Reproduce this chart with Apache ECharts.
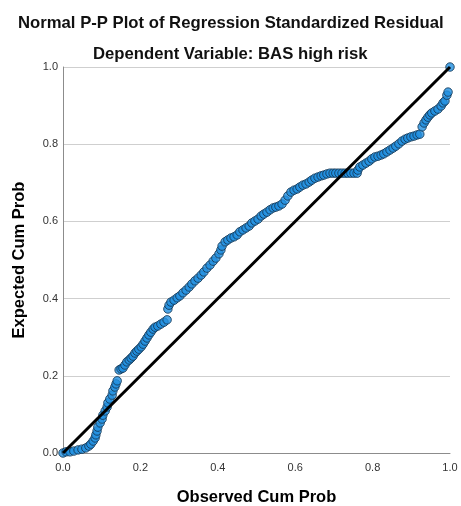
<!DOCTYPE html>
<html>
<head>
<meta charset="utf-8">
<script src="https://cdn.jsdelivr.net/npm/echarts@6/dist/echarts.min.js"></script>
<style>
    html, body { margin: 0; padding: 0; background: #fff; }
    #main { width: 461px; height: 506px; }
</style>
</head>
<body>
<div id="main"></div>
<script>
// observed vs expected cumulative probabilities
let obsProb = [
    0, 0.008, 0.018, 0.028, 0.039, 0.049, 0.059, 0.067, 0.072, 0.078,
    0.083, 0.085, 0.088, 0.090, 0.096, 0.101, 0.103, 0.109, 0.114, 0.116,
    0.121, 0.127, 0.129, 0.134, 0.137, 0.140,
    0.145, 0.150, 0.155, 0.160, 0.165, 0.171, 0.176, 0.181, 0.186, 0.191,
    0.196, 0.202, 0.207, 0.212, 0.217, 0.222, 0.227, 0.233, 0.238, 0.245,
    0.253, 0.261, 0.269,
    0.271, 0.274, 0.279, 0.287, 0.295, 0.302, 0.310, 0.318, 0.326, 0.333,
    0.341, 0.349, 0.357, 0.364, 0.372, 0.380, 0.388, 0.395, 0.403, 0.408,
    0.411, 0.419, 0.426, 0.434, 0.442, 0.450, 0.457, 0.465, 0.473, 0.481,
    0.488, 0.496, 0.504, 0.512, 0.519, 0.527, 0.535, 0.543, 0.550, 0.558,
    0.566, 0.574, 0.581, 0.589, 0.597, 0.605, 0.612, 0.620, 0.628, 0.636,
    0.643, 0.651, 0.659, 0.667, 0.674, 0.682, 0.690, 0.698, 0.705, 0.713,
    0.721, 0.729, 0.736, 0.744, 0.752, 0.760,
    0.762, 0.767, 0.775, 0.783, 0.791, 0.798, 0.806, 0.814, 0.822, 0.829,
    0.837, 0.845, 0.853, 0.860, 0.868, 0.876, 0.884, 0.891, 0.899, 0.907,
    0.915, 0.922,
    0.928, 0.933, 0.938, 0.943, 0.948, 0.953, 0.961, 0.969, 0.977, 0.982,
    0.987, 0.992, 0.995, 1.0
];
let expProb = [
    0, 0.003, 0.003, 0.005, 0.008, 0.010, 0.013, 0.018, 0.023, 0.031,
    0.039, 0.047, 0.057, 0.067, 0.078, 0.088, 0.098, 0.109, 0.119, 0.130,
    0.140, 0.150, 0.161, 0.171, 0.179, 0.187,
    0.215, 0.218, 0.220, 0.228, 0.236, 0.241, 0.246, 0.251, 0.259, 0.264,
    0.269, 0.275, 0.282, 0.290, 0.298, 0.306, 0.313, 0.321, 0.326, 0.329,
    0.334, 0.339, 0.345,
    0.373, 0.383, 0.391, 0.396, 0.402, 0.407, 0.415, 0.422, 0.430, 0.438,
    0.446, 0.453, 0.461, 0.469, 0.479, 0.487, 0.497, 0.505, 0.516, 0.526,
    0.536, 0.547, 0.552, 0.557, 0.560, 0.565, 0.573, 0.578, 0.583, 0.588,
    0.596, 0.601, 0.606, 0.614, 0.619, 0.624, 0.630, 0.635, 0.637, 0.640,
    0.645, 0.655, 0.666, 0.676, 0.681, 0.684, 0.689, 0.694, 0.697, 0.702,
    0.707, 0.712, 0.715, 0.718, 0.720, 0.723, 0.725, 0.725, 0.725, 0.725,
    0.725, 0.725, 0.725, 0.725, 0.725, 0.725,
    0.733, 0.741, 0.746, 0.751, 0.756, 0.762, 0.767, 0.769, 0.772, 0.775,
    0.780, 0.785, 0.790, 0.795, 0.801, 0.808, 0.813, 0.816, 0.819, 0.821,
    0.824, 0.826,
    0.845, 0.855, 0.863, 0.870, 0.876, 0.881, 0.886, 0.891, 0.899, 0.907,
    0.912, 0.927, 0.935, 1.0
];
let refLine = [[0, 0], [1, 1]];
let ticks = [0, 0.2, 0.4, 0.6, 0.8, 1.0];

let font = 'Liberation Sans, Arial, sans-serif';

let points = obsProb.map((x, i) => [x, expProb[i]]);

let chart = echarts.init(document.getElementById('main'));

let axisCommon = {
    type: 'value',
    min: ticks[0],
    max: ticks[ticks.length - 1],
    interval: 0.2,
    axisTick: { show: false },
    axisLine: { show: true, lineStyle: { color: '#8c8c8c', width: 1 } },
    axisLabel: {
        color: '#333',
        fontSize: 11,
        fontFamily: font,
        formatter: v => v.toFixed(1)
    },
    nameLocation: 'middle',
    nameTextStyle: {
        color: '#000',
        fontSize: 16.5,
        fontWeight: 'bold',
        fontFamily: font
    }
};

let option = {
    backgroundColor: '#fff',
    animation: false,
    title: [{
        text: 'Normal P-P Plot of Regression Standardized Residual',
        left: 13,
        top: 10,
        textStyle: { fontSize: 16.7, fontWeight: 'bold', color: '#111', fontFamily: font }
    }, {
        text: 'Dependent Variable: BAS high risk',
        left: 88,
        top: 41,
        textStyle: { fontSize: 16.7, fontWeight: 'bold', color: '#111', fontFamily: font }
    }],
    grid: { left: 63, right: 11, top: 67, bottom: 53, outerBoundsMode: 'none' },
    xAxis: Object.assign({}, axisCommon, {
        name: 'Observed Cum Prob',
        nameGap: 36,
        splitLine: { show: false },
        axisLabel: Object.assign({}, axisCommon.axisLabel, { margin: 9 })
    }),
    yAxis: Object.assign({}, axisCommon, {
        name: 'Expected Cum Prob',
        nameGap: 35,
        splitLine: { show: true, lineStyle: { color: '#cfcfcf', width: 1 } },
        axisLabel: Object.assign({}, axisCommon.axisLabel, { margin: 5 })
    }),
    series: [{
        type: 'scatter',
        data: points,
        symbolSize: 8.5,
        itemStyle: { color: '#1f8fe0', borderColor: '#10324f', borderWidth: 1 },
        z: 2
    }, {
        type: 'line',
        data: refLine,
        symbol: 'none',
        lineStyle: { color: '#000', width: 3 },
        z: 3
    }]
};

chart.setOption(option);
</script>
</body>
</html>
